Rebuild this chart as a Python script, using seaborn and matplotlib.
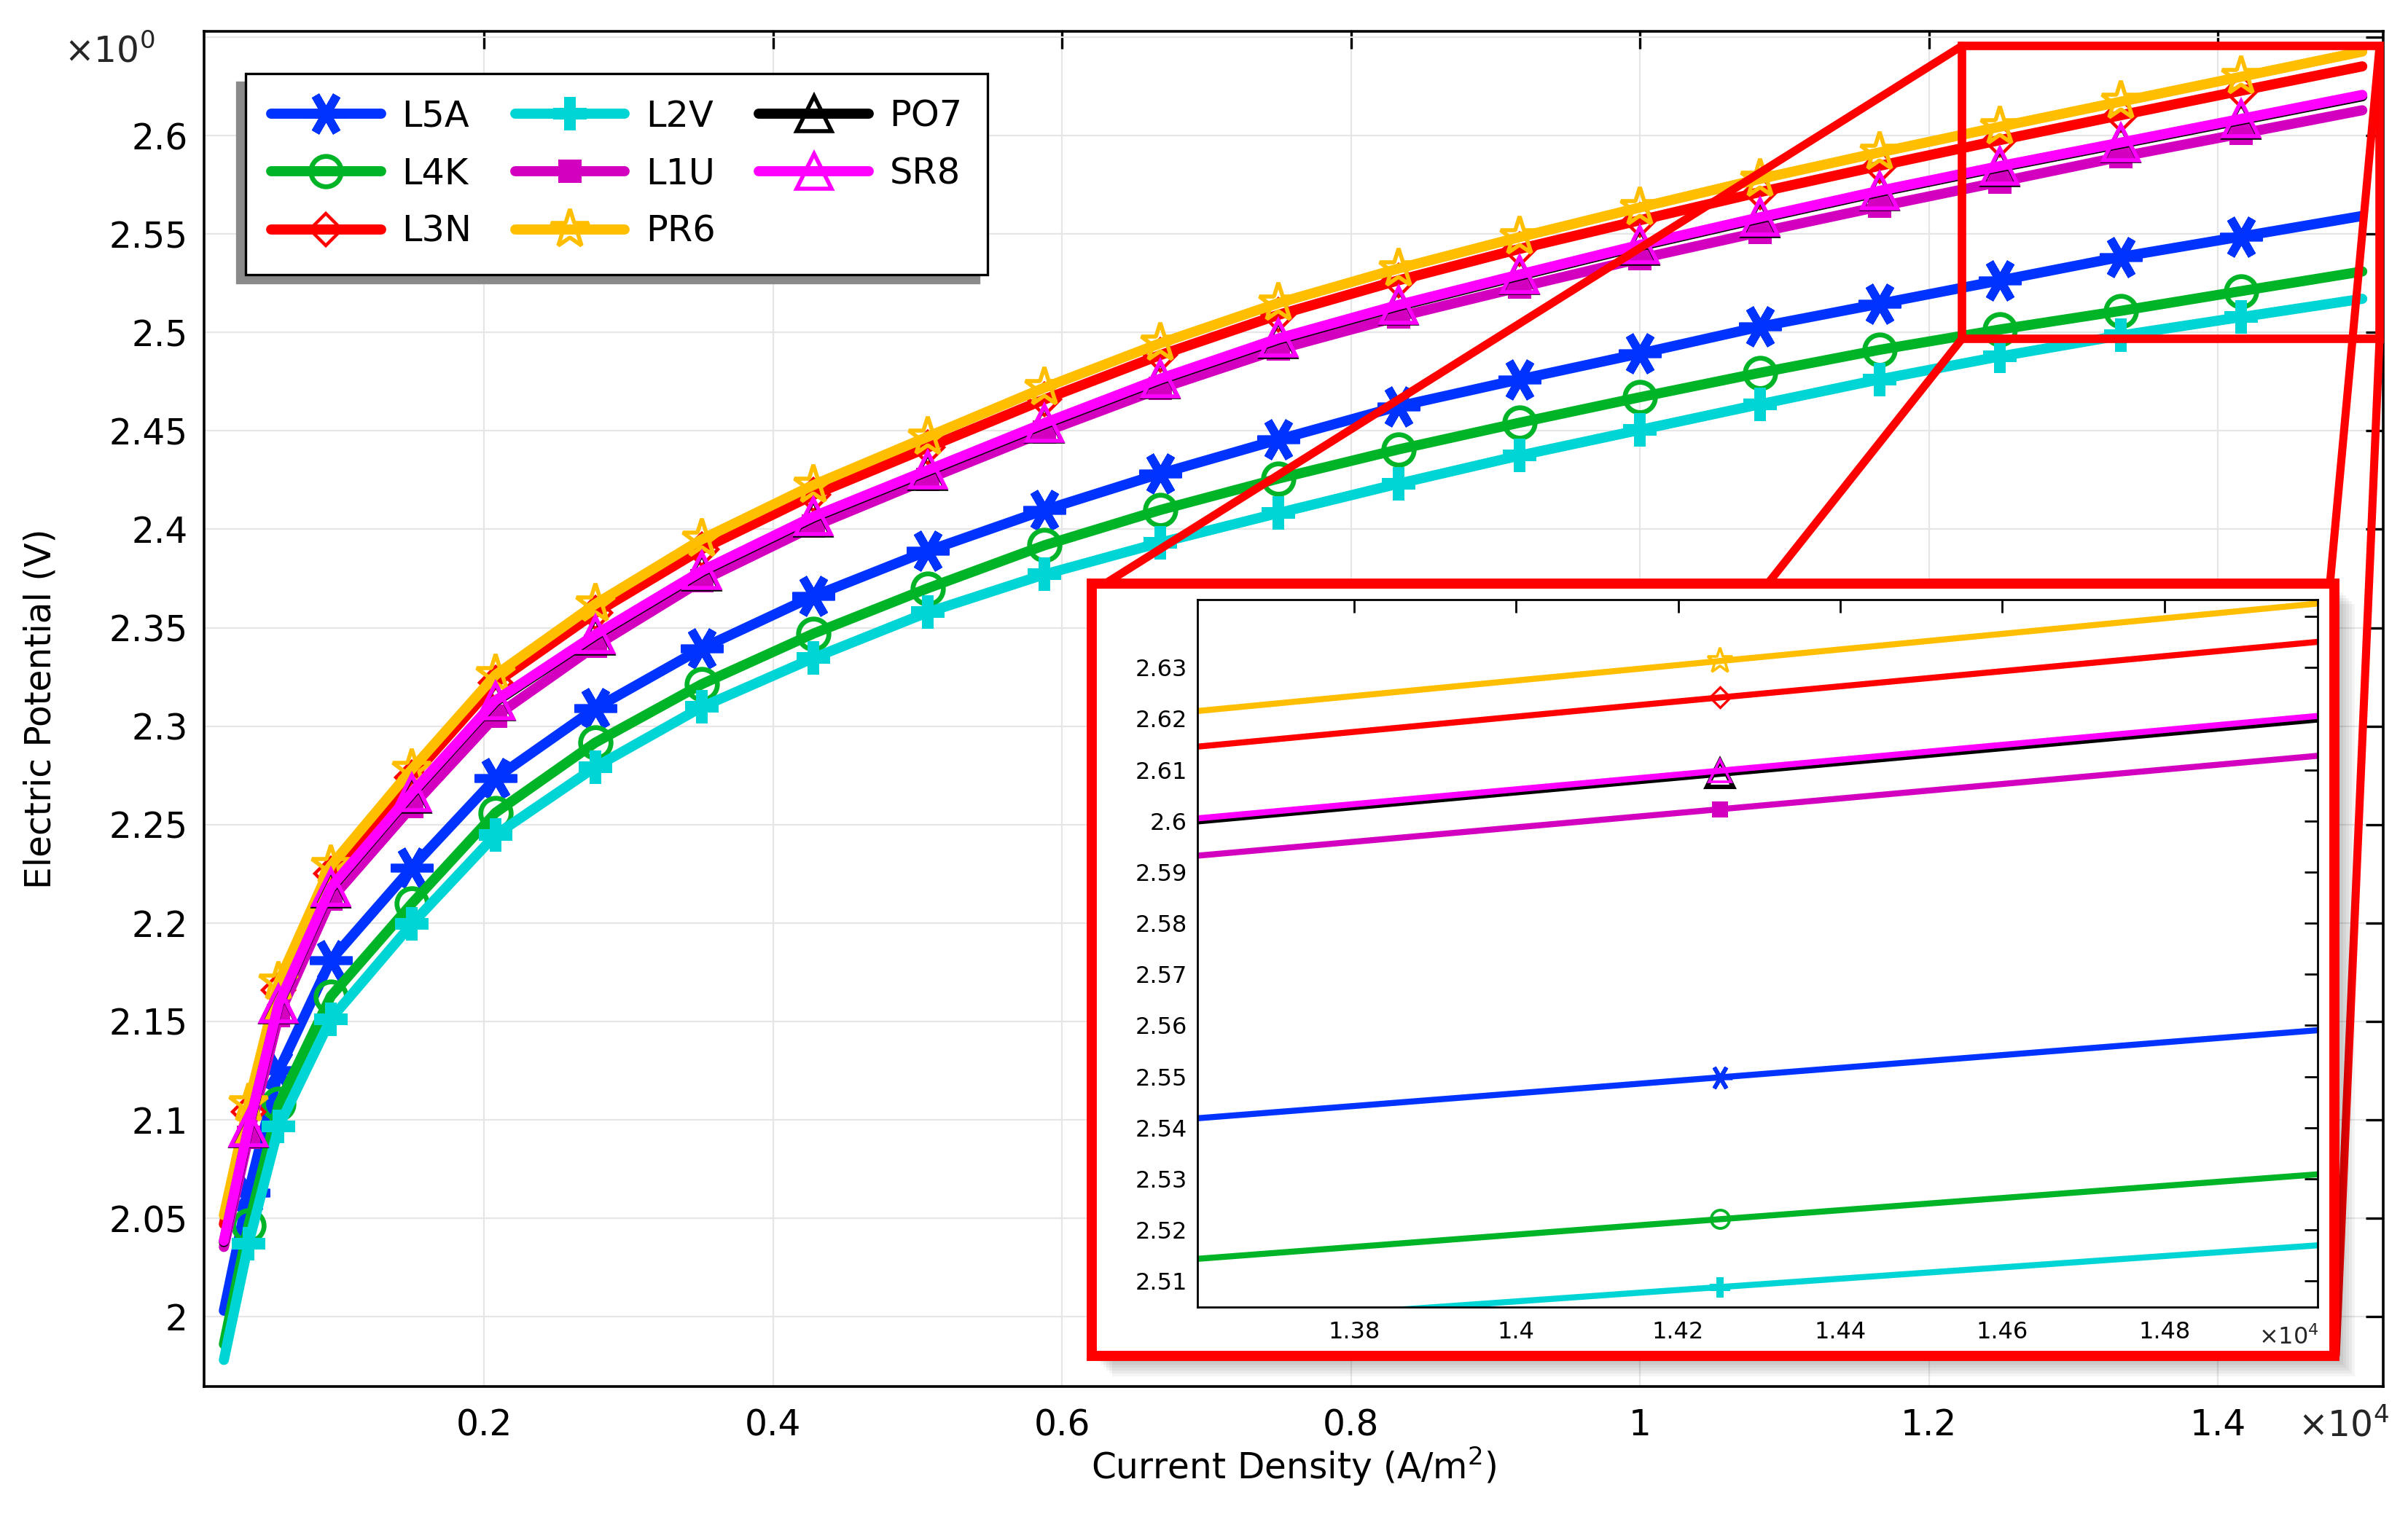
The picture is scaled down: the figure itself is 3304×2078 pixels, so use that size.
import numpy as np
import matplotlib
matplotlib.use('Agg')
import matplotlib.pyplot as plt
from matplotlib.patches import Rectangle
from matplotlib.lines import Line2D
from matplotlib.ticker import FuncFormatter, MultipleLocator
import seaborn as sns

# current density (A/m^2)
j = [200, 370, 580, 940, 1500, 2080, 2770, 3510, 4280, 5070, 5880, 6680,
     7500, 8330, 9170, 10000, 10830, 11660, 12490, 13330, 14160, 15000]

# electric potential (V) per sample
L5A = [2.003, 2.063, 2.125, 2.181, 2.228, 2.2735, 2.309, 2.3396, 2.366, 2.389, 2.4098,
       2.4283, 2.4456, 2.4625, 2.4762, 2.4893, 2.5029, 2.5146, 2.5264, 2.5384, 2.5487, 2.5592]
L4K = [1.986, 2.0462, 2.108, 2.1627, 2.2098, 2.256, 2.2916, 2.3214, 2.347, 2.370, 2.3919,
       2.4098, 2.4258, 2.4406, 2.4542, 2.4671, 2.4795, 2.4912, 2.5015, 2.511, 2.521, 2.531]
L3N = [2.047, 2.104, 2.166, 2.225, 2.274, 2.322, 2.3575, 2.390, 2.4175, 2.4415, 2.466,
       2.4885, 2.509, 2.5265, 2.5425, 2.557, 2.5713, 2.5847, 2.5977, 2.6104, 2.6228, 2.6352]
L2V = [1.978, 2.037, 2.0966, 2.1512, 2.1994, 2.2447, 2.2792, 2.3098, 2.3346, 2.3578, 2.3771,
       2.3932, 2.4083, 2.4232, 2.4375, 2.4505, 2.4635, 2.4762, 2.4878, 2.4985, 2.5078, 2.5171]
L1U = [2.0354, 2.091, 2.153, 2.212, 2.259, 2.305, 2.3407, 2.374, 2.4015, 2.4255, 2.4495,
       2.4715, 2.4915, 2.508, 2.523, 2.5375, 2.551, 2.564, 2.5765, 2.5893, 2.601, 2.6129]
PR6 = [2.0515, 2.108, 2.170, 2.229, 2.278, 2.326, 2.362, 2.395, 2.4225, 2.447, 2.472,
       2.4945, 2.515, 2.5325, 2.5485, 2.5635, 2.578, 2.5915, 2.6045, 2.6173, 2.6299, 2.6427]
PO7 = [2.0379, 2.0954, 2.1584, 2.2174, 2.2654, 2.3124, 2.3459, 2.3784, 2.4059, 2.4294, 2.4534,
       2.4759, 2.4964, 2.5134, 2.5289, 2.5439, 2.5579, 2.5714, 2.5839, 2.5959, 2.6079, 2.6200]
SR8 = [2.0385, 2.096, 2.159, 2.218, 2.266, 2.313, 2.3465, 2.379, 2.4065, 2.430, 2.454,
       2.4765, 2.497, 2.514, 2.5295, 2.5445, 2.5585, 2.572, 2.5845, 2.5965, 2.6085, 2.6207]

names = ['L5A', 'L4K', 'L3N', 'L2V', 'L1U', 'PR6', 'PO7', 'SR8']
values = [L5A, L4K, L3N, L2V, L1U, PR6, PO7, SR8]
colors = ['#0033ff', '#00b427', '#ff0000', '#00d5d5', '#d400c0', '#ffbf00', '#000000', '#ff00ff']

# x of the single marker shown in the zoomed inset
inset_marker_x = 14252

# marker styles: marker, size, edge width, filled, inset size, inset edge width
mk = {
    'L5A': ((6, 2, 30), 21, 4.2, True, 12, 2.0),
    'L4K': ('o', 15, 2.4, False, 9, 1.4),
    'L3N': ('D', 11, 1.6, False, 7, 1.2),
    'L2V': ('P', 16.5, 0.0, True, 10, 0.0),
    'L1U': ('s', 11.5, 0.0, True, 8, 0.0),
    'PR6': ('*', 20, 2.0, False, 13, 1.3),
    'PO7': ('^', 17, 2.0, False, 13, 2.2),
    'SR8': ('^', 17, 2.0, False, 11, 1.3),
}

sns.set_theme(style='white')
plt.rcParams['font.family'] = ['DejaVu Sans']
plt.rcParams['mathtext.fontset'] = 'dejavusans'

W, H = 3304, 2078
fig = plt.figure(figsize=(W / 200, H / 200), dpi=200)


def fx(px):
    return px / W


def fy(py):
    return 1 - py / H


ax = fig.add_axes([fx(280), fy(1903), (3270 - 280) / W, (1903 - 43) / H])

for name, vals, c in zip(names, values, colors):
    m, ms, mew, filled, _, _ = mk[name]
    sns.lineplot(x=j, y=vals, ax=ax, color=c, linewidth=5.0, marker=m,
                 markersize=ms, markeredgewidth=mew, markeredgecolor=c,
                 markerfacecolor=c if filled else 'none',
                 markevery=slice(1, -1), label=name, legend=False)

ax.set_xlim(63, 15145)
ax.set_ylim(1.9645, 2.653)
ax.xaxis.set_major_locator(MultipleLocator(2000))
ax.yaxis.set_major_locator(MultipleLocator(0.05))
ax.xaxis.set_major_formatter(FuncFormatter(lambda v, p: f'{v / 1e4:g}'))
ax.yaxis.set_major_formatter(FuncFormatter(lambda v, p: '' if v > 2.62 else f'{round(v, 3):g}'))
ax.grid(True, color='#e6e6e6', linewidth=0.8)
ax.set_axisbelow(True)
ax.tick_params(direction='in', length=8.8, width=1.2, top=True, right=True,
               labelsize=17.5, colors='black')
ax.tick_params(axis='x', pad=10.5)
ax.tick_params(axis='y', pad=8)
for s in ax.spines.values():
    s.set_color('black')
    s.set_linewidth(1.3)

ax.set_xlabel('Current Density (A/m$^2$)', fontsize=17.5, color='black')
ax.set_ylabel('Electric Potential (V)', fontsize=17.5, color='black')
ax.xaxis.set_label_coords(0.5, -0.043)
ax.yaxis.set_label_coords(-0.0672, 0.5)

fig.text(fx(212), fy(86), r'$\times10^{0}$', ha='right', va='baseline', fontsize=17.5)
fig.text(fx(3278), fy(1972), r'$\times10^{4}$', ha='right', va='baseline', fontsize=17.5)

leg = ax.legend(loc='upper left', bbox_to_anchor=(0.0191, 0.9688), borderaxespad=0,
                ncol=3, fontsize=17.8, handlelength=3.05, handletextpad=0.58,
                columnspacing=1.2, borderpad=0.7, labelspacing=0.63,
                frameon=True, fancybox=False, edgecolor='black', framealpha=1,
                shadow={'ox': -4.3, 'oy': -4.3, 'color': '#8a8a8a', 'alpha': 1})
leg.get_frame().set_linewidth(1.2)
for t in leg.get_texts():
    t.set_color('black')

# zoom rectangle on the main plot
ax.add_patch(Rectangle((12229, 2.4967), 15120 - 12229, 2.6455 - 2.4967, fill=False,
                       edgecolor='red', linewidth=4.2, clip_on=False, zorder=6))

# connecting lines
for (x0, y0), (x1, y1) in [((2692, 63), (1510, 805)), ((2692, 465), (2424, 803)),
                           ((3265, 63), (3197, 800)), ((3265, 465), (3205, 1860))]:
    fig.add_artist(Line2D([fx(x0), fx(x1)], [fy(y0), fy(y1)], color='red', linewidth=4.0,
                          transform=fig.transFigure, zorder=3))

# inset frame with a soft shadow
fl, fr, ft, fb = 1498, 3203, 801, 1861
for k in range(1, 8):
    fig.add_artist(Rectangle((fx(fl + 4 * k), fy(fb + 4 * k)), (fr - fl) / W, (fb - ft) / H,
                             transform=fig.transFigure, facecolor='black', edgecolor='none',
                             alpha=0.045, zorder=4))
fig.add_artist(Rectangle((fx(fl), fy(fb)), (fr - fl) / W, (fb - ft) / H,
                         transform=fig.transFigure, facecolor='white', edgecolor='red',
                         linewidth=5, zorder=5))

axi = fig.add_axes([fx(1643), fy(1794), (3180 - 1643) / W, (1794 - 823) / H], zorder=6)
for name, vals, c in zip(names, values, colors):
    m, _, _, filled, ms_i, mew_i = mk[name]
    sns.lineplot(x=j, y=vals, ax=axi, color=c, linewidth=3, legend=False)
    axi.plot([inset_marker_x], [np.interp(inset_marker_x, j, vals)], linestyle='none',
             marker=m, markersize=ms_i, markeredgewidth=mew_i, markeredgecolor=c,
             markerfacecolor=c if filled else 'none')

axi.set_xlim(13607, 14989)
axi.set_ylim(2.5049, 2.6433)
axi.xaxis.set_major_locator(MultipleLocator(200))
axi.yaxis.set_major_locator(MultipleLocator(0.01))
axi.xaxis.set_major_formatter(FuncFormatter(lambda v, p: f'{v / 1e4:g}'))
axi.yaxis.set_major_formatter(FuncFormatter(lambda v, p: '' if v > 2.635 else f'{round(v, 3):g}'))
axi.tick_params(direction='in', length=6.6, width=1.0, top=True, right=True,
                labelsize=11.5, colors='black')
axi.tick_params(axis='x', pad=7)
axi.tick_params(axis='y', pad=5)
axi.set_xlabel('')
axi.set_ylabel('')
axi.grid(False)
for s in axi.spines.values():
    s.set_color('black')
    s.set_linewidth(1.0)

fig.text(fx(1510), fy(852), r'$\times10^{0}$', ha='left', va='baseline', fontsize=11.5)
fig.text(fx(3182), fy(1845), r'$\times10^{4}$', ha='right', va='baseline', fontsize=11.5,
         zorder=7)

fig.savefig('out.png', dpi=200, facecolor='white')
